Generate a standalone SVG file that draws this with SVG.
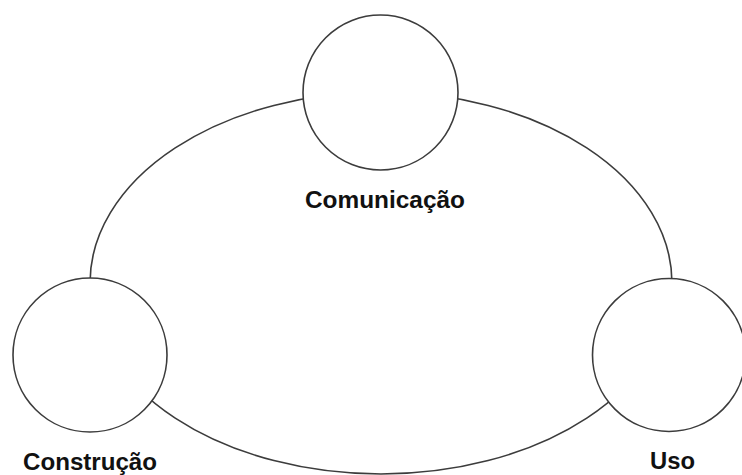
<svg xmlns="http://www.w3.org/2000/svg" width="742" height="475" viewBox="0 0 742 475">
<style>
.ln{fill:none;stroke:#3c3c3c;stroke-width:1.6}
.nd{fill:#fff;stroke:#3c3c3c;stroke-width:1.6}
.lb{font-family:"Liberation Sans",Arial,sans-serif;font-weight:bold;font-size:23px;fill:#111;text-anchor:middle}
</style>
<rect width="742" height="475" fill="#fff"/>
<g id="connectors">
<ellipse class="ln" cx="381" cy="283" rx="291" ry="191"/>
</g>
<g id="comunicacao">
<circle class="nd" cx="380.5" cy="92.5" r="77.5"/>
<text class="lb" x="385" y="208" textLength="160" lengthAdjust="spacingAndGlyphs">Comunicação</text>
</g>
<g id="construcao">
<circle class="nd" cx="90" cy="355" r="77"/>
<text class="lb" x="90" y="470" textLength="134" lengthAdjust="spacingAndGlyphs">Construção</text>
</g>
<g id="uso">
<circle class="nd" cx="669" cy="355" r="76.5"/>
<text class="lb" x="672.5" y="469" textLength="45" lengthAdjust="spacingAndGlyphs">Uso</text>
</g>
</svg>
